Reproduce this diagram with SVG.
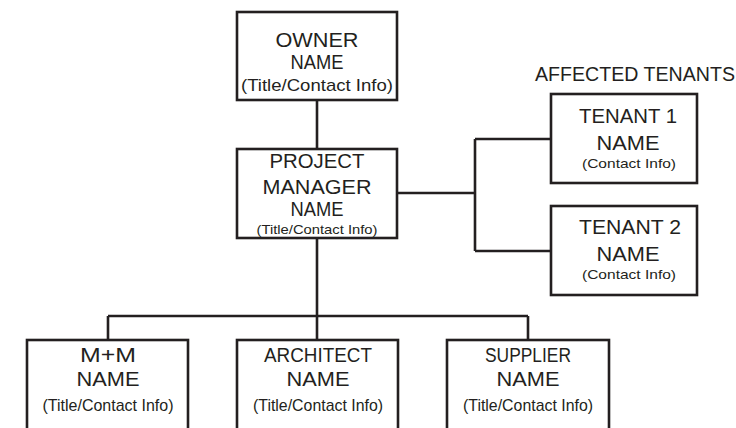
<svg xmlns="http://www.w3.org/2000/svg" width="736" height="428" viewBox="0 0 736 428">
<style>
.box{fill:#fff;stroke:#231f20;stroke-width:2.6}
.ln{fill:none;stroke:#231f20;stroke-width:2.6}
text{font-family:"Liberation Sans","DejaVu Sans",sans-serif;fill:#231f20;text-anchor:middle}
.big{font-size:20.5px}
.mid{font-size:19.5px}
.sm{font-size:17px}
.xs{font-size:13.5px}
</style>
<rect width="736" height="428" fill="#fff"/>
<g id="connectors">
<path class="ln" d="M317 100V149"/>
<path class="ln" d="M397 193H475M475 139V251M475 139H551M475 251H551"/>
<path class="ln" d="M317 238V340M108 316H528M108 316V340M528 316V340"/>
</g>
<g id="owner">
<rect class="box" x="237" y="12" width="160" height="88"/>
<text class="big" x="317" y="47" textLength="83" lengthAdjust="spacingAndGlyphs">OWNER</text>
<text class="mid" x="317" y="69" textLength="53" lengthAdjust="spacingAndGlyphs">NAME</text>
<text class="sm" x="317" y="91" textLength="152" lengthAdjust="spacingAndGlyphs">(Title/Contact Info)</text>
</g>
<g id="pm">
<rect class="box" x="237" y="149" width="160" height="89"/>
<text class="big" x="317" y="168" textLength="95" lengthAdjust="spacingAndGlyphs">PROJECT</text>
<text class="big" x="317" y="194" textLength="109" lengthAdjust="spacingAndGlyphs">MANAGER</text>
<text class="mid" x="317" y="216" textLength="53" lengthAdjust="spacingAndGlyphs">NAME</text>
<text class="xs" x="317" y="234" textLength="121" lengthAdjust="spacingAndGlyphs">(Title/Contact Info)</text>
</g>
<g id="affected-label">
<text class="mid" x="635" y="81" textLength="200" lengthAdjust="spacingAndGlyphs">AFFECTED TENANTS</text>
</g>
<g id="tenant1">
<rect class="box" x="551" y="94" width="146" height="89"/>
<text class="big" x="628" y="123" textLength="98" lengthAdjust="spacingAndGlyphs">TENANT 1</text>
<text class="big" x="628" y="150" textLength="63" lengthAdjust="spacingAndGlyphs">NAME</text>
<text class="xs" x="629" y="168" textLength="94" lengthAdjust="spacingAndGlyphs">(Contact Info)</text>
</g>
<g id="tenant2">
<rect class="box" x="551" y="206" width="146" height="89"/>
<text class="big" x="630" y="234" textLength="102" lengthAdjust="spacingAndGlyphs">TENANT 2</text>
<text class="big" x="628" y="261" textLength="63" lengthAdjust="spacingAndGlyphs">NAME</text>
<text class="xs" x="629" y="279" textLength="94" lengthAdjust="spacingAndGlyphs">(Contact Info)</text>
</g>
<g id="mm">
<rect class="box" x="27" y="340" width="161" height="100"/>
<text class="big" x="108" y="362" textLength="56" lengthAdjust="spacingAndGlyphs">M+M</text>
<text class="big" x="108" y="386" textLength="63" lengthAdjust="spacingAndGlyphs">NAME</text>
<text class="sm" x="108" y="411" textLength="131" lengthAdjust="spacingAndGlyphs">(Title/Contact Info)</text>
</g>
<g id="architect">
<rect class="box" x="237" y="340" width="161" height="100"/>
<text class="big" x="318" y="362" textLength="108" lengthAdjust="spacingAndGlyphs">ARCHITECT</text>
<text class="big" x="318" y="386" textLength="63" lengthAdjust="spacingAndGlyphs">NAME</text>
<text class="sm" x="318" y="411" textLength="130" lengthAdjust="spacingAndGlyphs">(Title/Contact Info)</text>
</g>
<g id="supplier">
<rect class="box" x="447" y="340" width="162" height="100"/>
<text class="big" x="528" y="362" textLength="86" lengthAdjust="spacingAndGlyphs">SUPPLIER</text>
<text class="big" x="528" y="386" textLength="63" lengthAdjust="spacingAndGlyphs">NAME</text>
<text class="sm" x="528" y="411" textLength="130" lengthAdjust="spacingAndGlyphs">(Title/Contact Info)</text>
</g>
</svg>
